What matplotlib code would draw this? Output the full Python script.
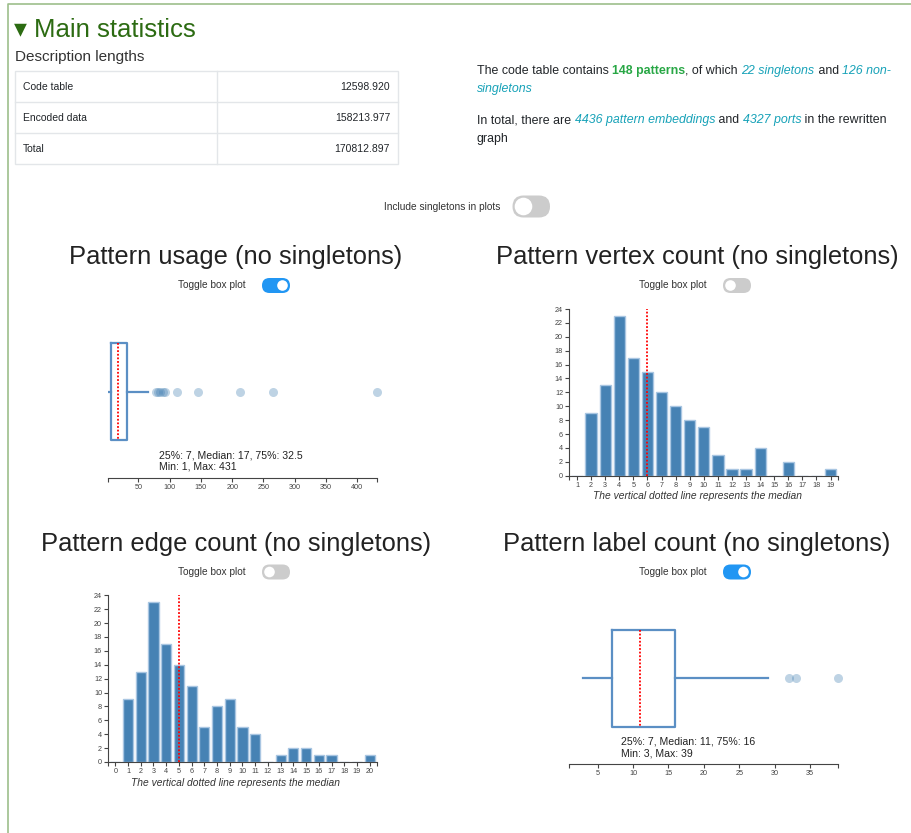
import numpy as np
import matplotlib.pyplot as plt
from matplotlib.patches import FancyBboxPatch, Circle, Rectangle

plt.rcParams['font.family'] = ['Liberation Sans', 'DejaVu Sans']

W, H = 912, 833

# ---- data ----
table_rows = ['Code table', 'Encoded data', 'Total']
table_vals = ['12598.920', '158213.977', '170812.897']

vertex_sizes = np.arange(1, 20)
vertex_counts = [0, 9, 13, 23, 17, 15, 12, 10, 8, 7, 3, 1, 1, 4, 0, 2, 0, 0, 1]

edge_sizes = np.arange(0, 21)
edge_counts = [0, 9, 13, 23, 17, 14, 11, 5, 8, 9, 5, 4, 0, 1, 2, 2, 1, 1, 0, 0, 1]

usage_quartiles = [7, 17, 32.5]
usage_whiskers = [1, 66]
usage_outliers = [79, 81, 85, 89, 92, 111, 145, 212, 265, 431]
usage_minmax = [1, 431]
usage_ticks = [50, 100, 150, 200, 250, 300, 350, 400]

label_quartiles = [7, 11, 16]
label_whiskers = [3, 29]
label_outliers = [32, 33, 39]
label_minmax = [3, 39]
label_domain = [1, 39]
label_ticks = [5, 10, 15, 20, 25, 30, 35]

GREEN = '#2c6b12'
CYAN = '#17a2b8'
TEXT = '#212529'
BAR = '#4682b4'
BOXC = '#5b8fc4'

fig = plt.figure(figsize=(W / 100, H / 100), dpi=100)
bg = fig.add_axes([0, 0, 1, 1])
bg.set_xlim(0, W)
bg.set_ylim(H, 0)
bg.axis('off')
renderer = fig.canvas.get_renderer()


def rect(l, t, r, b):
    return [l / W, 1 - b / H, (r - l) / W, (b - t) / H]


def rich(x, y, parts, size):
    # draw text segments one after another on one baseline
    for s, kw in parts:
        bg.text(x, y, s, fontsize=size, va='baseline', **kw)
        w1 = bg.text(0, 0, s + '|', fontsize=size, **kw)
        w2 = bg.text(0, 0, '|', fontsize=size, **kw)
        x += w1.get_window_extent(renderer).width - w2.get_window_extent(renderer).width
        w1.remove()
        w2.remove()


def toggle(x0, x1, y0, y1, on):
    h = y1 - y0
    col = '#2196f3' if on else '#cccccc'
    bg.add_patch(FancyBboxPatch((x0, y0), x1 - x0, h,
                                boxstyle=f'round,pad=0,rounding_size={h / 2}',
                                fc=col, ec='none'))
    kx = x1 - h / 2 if on else x0 + h / 2
    bg.add_patch(Circle((kx, (y0 + y1) / 2), h / 2 - 2.2, fc='white', ec='none'))


# frame
bg.plot([8, 8, W], [H, 4, 4], color='#9dbf8b', lw=1.2)

bg.text(14, 30, '\u25be Main statistics', fontsize=18.5, color=GREEN, va='center')
bg.text(15, 57, 'Description lengths', fontsize=11, color='#333', va='center')

# table
bg.add_patch(Rectangle((15, 71), 383, 93, fc='none', ec='#e3e6e9', lw=1))
for yl in [102, 133]:
    bg.plot([15, 398], [yl, yl], color='#e3e6e9', lw=1)
bg.plot([217, 217], [71, 164], color='#e3e6e9', lw=1)
for i, (name, val) in enumerate(zip(table_rows, table_vals)):
    yc = 87 + 31 * i
    bg.text(23, yc, name, fontsize=7.5, color=TEXT, va='center')
    bg.text(390, yc, val, fontsize=7.5, color=TEXT, va='center', ha='right')

# summary paragraph
fs = 8.9
rich(477, 73.5, [('The code table contains ', dict(color=TEXT)),
                 ('148 patterns', dict(color='#28a745', weight='bold')),
                 (', of which ', dict(color=TEXT)),
                 ('22 singletons', dict(color=CYAN, style='italic')),
                 (' and ', dict(color=TEXT)),
                 ('126 non-', dict(color=CYAN, style='italic'))], fs)
rich(477, 92, [('singletons', dict(color=CYAN, style='italic'))], fs)
rich(477, 123, [('In total, there are ', dict(color=TEXT)),
                ('4436 pattern embeddings', dict(color=CYAN, style='italic')),
                (' and ', dict(color=TEXT)),
                ('4327 ports', dict(color=CYAN, style='italic')),
                (' in the rewritten', dict(color=TEXT))], fs)
rich(477, 141.5, [('graph', dict(color=TEXT))], fs)

bg.text(500, 207, 'Include singletons in plots', fontsize=7.3, color='#333', va='center', ha='right')
toggle(512.5, 550, 195.5, 217.5, False)

# titles and toggles of the four panels
titles = ['Pattern usage (no singletons)', 'Pattern vertex count (no singletons)',
          'Pattern edge count (no singletons)', 'Pattern label count (no singletons)']
toggles_on = [True, False, False, True]
for k, (t, on) in enumerate(zip(titles, toggles_on)):
    cx = 236 if k % 2 == 0 else 697
    dy = 0 if k < 2 else 286.5
    bg.text(cx, 257 + dy, t, fontsize=18.4, color='#222', va='center', ha='center')
    bg.text(cx + 10, 285.5 + dy, 'Toggle box plot', fontsize=7.3, color='#333', va='center', ha='right')
    toggle(cx + 26, cx + 54, 278 + dy, 293 + dy, on)


def style_axis(ax):
    ax.tick_params(which='both', labelsize=5.2, length=3, width=0.8,
                   color='#444', labelcolor='#444', pad=1.5)
    for s in ax.spines.values():
        s.set_color('#444')
        s.set_linewidth(0.8)


def hist_panel(r, sizes, counts, cap_x, cap_y):
    ax = fig.add_axes(rect(*r))
    ax.bar(sizes, counts, width=0.8, color=BAR, edgecolor='#a9c6e2', lw=1)
    med = np.median(np.repeat(sizes, counts))
    ax.axvline(med, color='red', ls=(0, (1, 1)), lw=1.3)
    ax.set_xlim(sizes[0] - 0.55, sizes[-1] + 0.55)
    ax.set_ylim(0, 24)
    ax.set_yticks(range(0, 25, 2))
    ax.set_xticks(sizes)
    ax.set_xticks(ax.get_xlim(), minor=True)
    ax.spines[['top', 'right']].set_visible(False)
    style_axis(ax)
    bg.text(cap_x, cap_y, 'The vertical dotted line represents the median',
            fontsize=7.4, style='italic', color='#333', va='center', ha='center')


def box_panel(r, center, height, quart, whisk, outl, lims, ticks, minmax, txt_x, txt_y):
    ax = fig.add_axes(rect(*r))
    ax.set_ylim(r[3], r[1])
    stats = [dict(q1=quart[0], med=quart[1], q3=quart[2],
                  whislo=whisk[0], whishi=whisk[1], fliers=outl)]
    parts = ax.bxp(stats, positions=[center], widths=[height], orientation='horizontal',
                   showcaps=False,
                   boxprops=dict(color=BOXC, lw=1.6),
                   whiskerprops=dict(color=BOXC, lw=1.6),
                   medianprops=dict(color='red', ls=(0, (1, 1)), lw=1.3),
                   flierprops=dict(marker='o', markersize=6.5, markerfacecolor=BAR,
                                   markeredgecolor='none', alpha=0.35))
    for fl in parts['fliers']:
        fl.set_clip_on(False)
    ax.set_xlim(*lims)
    ax.set_xticks(ticks)
    ax.set_xticks(lims, minor=True)
    ax.set_yticks([])
    ax.spines[['top', 'right', 'left']].set_visible(False)
    ax.patch.set_alpha(0)
    style_axis(ax)
    bg.text(txt_x, txt_y, f'25%: {quart[0]:g}, Median: {quart[1]:g}, 75%: {quart[2]:g}',
            fontsize=7.6, color='#222', va='center')
    bg.text(txt_x, txt_y + 11.5, f'Min: {minmax[0]:g}, Max: {minmax[1]:g}',
            fontsize=7.6, color='#222', va='center')


box_panel((107.7, 330, 376.7, 478), 391.7, 97, usage_quartiles, usage_whiskers,
          usage_outliers, usage_minmax, usage_ticks, usage_minmax, 159, 455)
hist_panel((569.3, 309, 838.3, 475.7), vertex_sizes, vertex_counts, 698, 496)
hist_panel((108.3, 595.3, 376.7, 762), edge_sizes, edge_counts, 236, 783)
box_panel((569.3, 617, 838.3, 764), 678.3, 97, label_quartiles, label_whiskers,
          label_outliers, label_domain, label_ticks, label_minmax, 621, 742)

fig.savefig('out.png', dpi=100)
